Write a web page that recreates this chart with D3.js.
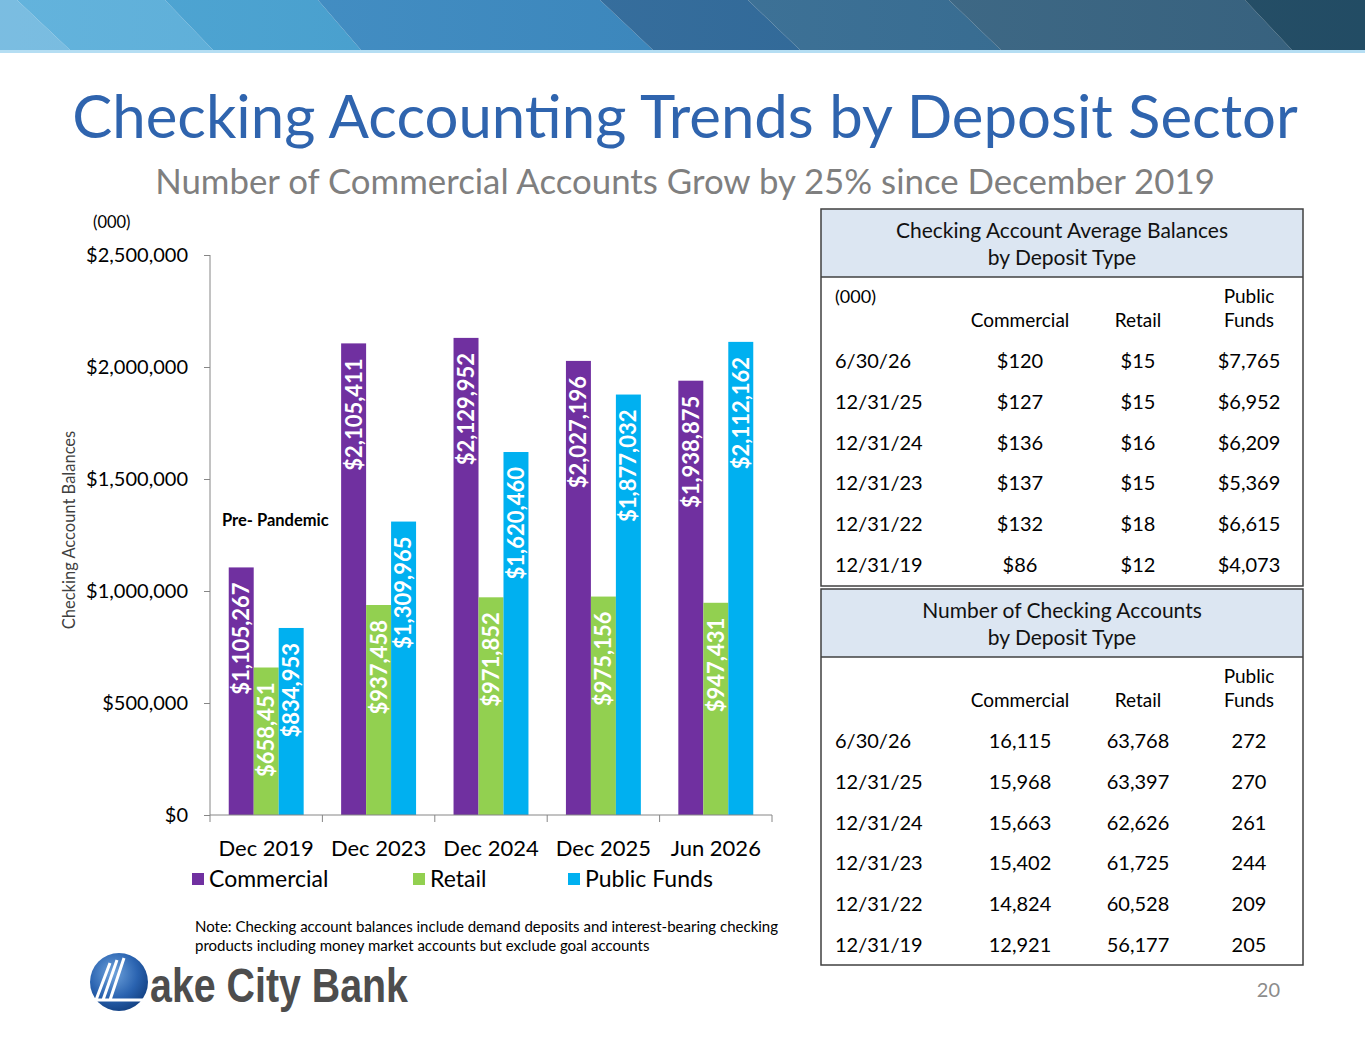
<!DOCTYPE html>
<html>
<head>
<meta charset="utf-8">
<script src="https://cdn.jsdelivr.net/npm/d3@7"></script>
<style>
  body { margin: 0; background: #fff; }
  svg { display: block; font-family: Lato, "Open Sans", sans-serif; }
</style>
</head>
<body>
<svg id="page" width="1365" height="1047"></svg>
<script>
// chart data
var categories = ["Dec 2019", "Dec 2023", "Dec 2024", "Dec 2025", "Jun 2026"];
var seriesNames = ["Commercial", "Retail", "Public Funds"];
var commercial = [1105267, 2105411, 2129952, 2027196, 1938875];
var retail = [658451, 937458, 971852, 975156, 947431];
var publicFunds = [834953, 1309965, 1620460, 1877032, 2112162];
var yTicks = [0, 500000, 1000000, 1500000, 2000000, 2500000];

// table data
var tableDates = ["6/30/26", "12/31/25", "12/31/24", "12/31/23", "12/31/22", "12/31/19"];
var balCommercial = [120, 127, 136, 137, 132, 86];
var balRetail = [15, 15, 16, 15, 18, 12];
var balPublic = [7765, 6952, 6209, 5369, 6615, 4073];
var cntCommercial = [16115, 15968, 15663, 15402, 14824, 12921];
var cntRetail = [63768, 63397, 62626, 61725, 60528, 56177];
var cntPublic = [272, 270, 261, 244, 209, 205];

var COLORS = ["#7030a0", "#92d050", "#00b0f0"];
var svg = d3.select("#page");

function fitText(sel, width) {
    var w = sel.node().getComputedTextLength();
    var fs = parseFloat(sel.attr("font-size"));
    sel.attr("font-size", fs * width / w);
}

// ---- banner ----
var bands = [
    [0, 0, 17, 70, "#6cb6de"],
    [17, 70, 165, 213, "#52abd9"],
    [165, 213, 318, 361, "#3d9dd0"],
    [318, 361, 600, 653, "#3487c2"],
    [600, 653, 748, 800, "#2c6a9e"],
    [748, 800, 949, 1001, "#37719a"],
    [949, 1001, 1245, 1292, "#3c6b8b"],
    [1245, 1292, 1365, 1365, "#26546f"]
];
var banner = svg.append("g");
bands.forEach(function (b) {
    banner.append("polygon")
        .attr("points", [[b[0], 0], [b[2], 0], [b[3], 50], [b[1], 50]].join(" "))
        .attr("fill", b[4]);
});
var shade = svg.append("defs").append("linearGradient").attr("id", "shade");
shade.append("stop").attr("offset", "0").attr("stop-color", "#fff").attr("stop-opacity", 0.1);
shade.append("stop").attr("offset", "1").attr("stop-color", "#000").attr("stop-opacity", 0.1);
banner.append("rect").attr("width", 1365).attr("height", 50).attr("fill", "url(#shade)");
banner.append("rect").attr("y", 50).attr("width", 1365).attr("height", 3).attr("fill", "#b5def3");

// ---- titles ----
var title = svg.append("text")
    .attr("x", 685).attr("y", 138)
    .attr("text-anchor", "middle")
    .attr("font-size", 58)
    .attr("fill", "#2f64ae")
    .text("Checking Accounting Trends by Deposit Sector");
fitText(title, 1226);

var subtitle = svg.append("text")
    .attr("x", 685).attr("y", 194)
    .attr("text-anchor", "middle")
    .attr("font-size", 30)
    .attr("fill", "#7f7f7f")
    .text("Number of Commercial Accounts Grow by 25% since December 2019");
fitText(subtitle, 1060);

// ---- bar chart ----
var values = [commercial, retail, publicFunds];
var data = categories.map(function (c, i) {
    return { cat: c, vals: seriesNames.map(function (s, j) { return { name: s, idx: j, v: values[j][i] }; }) };
});

var x0 = d3.scaleBand().domain(categories).range([210, 772]);
var x1 = d3.scaleBand().domain(seriesNames)
    .range([x0.bandwidth() / 6, x0.bandwidth() * 5 / 6]);
var y = d3.scaleLinear().domain([0, 2500000]).range([815, 255]);

var yAxis = d3.axisLeft(y).tickValues(yTicks).tickSize(6).tickPadding(16)
    .tickFormat(function (d) { return "$" + d3.format(",")(d); });
var gy = svg.append("g").attr("transform", "translate(210,0)").call(yAxis);
gy.selectAll("text").attr("font-size", 20).attr("fill", "#000").attr("font-family", "Lato");
gy.selectAll("line, path").attr("stroke", "#868686");
gy.select(".domain").attr("d", "M0," + y(2500000) + "V" + y(0));

var groups = svg.append("g").selectAll("g")
    .data(data).enter().append("g")
    .attr("transform", function (d) { return "translate(" + x0(d.cat) + ",0)"; });

groups.selectAll("rect")
    .data(function (d) { return d.vals; })
    .enter().append("rect")
    .attr("x", function (d) { return x1(d.name); })
    .attr("width", x1.bandwidth())
    .attr("y", function (d) { return y(d.v); })
    .attr("height", function (d) { return y(0) - y(d.v); })
    .attr("fill", function (d) { return COLORS[d.idx]; });

groups.selectAll("text")
    .data(function (d) { return d.vals; })
    .enter().append("text")
    .attr("transform", function (d) {
        return "translate(" + (x1(d.name) + x1.bandwidth() / 2) + "," + (y(d.v) + 15) + ") rotate(-90)";
    })
    .attr("text-anchor", "end")
    .attr("dy", "0.36em")
    .attr("font-size", 22)
    .attr("font-weight", "bold")
    .attr("fill", "#fff")
    .text(function (d) { return "$" + d3.format(",")(d.v); });

// x axis
var gx = svg.append("g");
gx.append("line").attr("x1", 210).attr("x2", 772).attr("y1", 815).attr("y2", 815).attr("stroke", "#868686");
gx.selectAll(".tk").data(categories.concat([null])).enter().append("line")
    .attr("x1", function (d) { return d ? x0(d) : x0.range()[1]; })
    .attr("x2", function (d) { return d ? x0(d) : x0.range()[1]; })
    .attr("y1", 815).attr("y2", 822)
    .attr("stroke", "#868686");
gx.selectAll(".lbl").data(categories).enter().append("text")
    .attr("x", function (d) { return x0(d) + x0.bandwidth() / 2; })
    .attr("y", 856)
    .attr("text-anchor", "middle")
    .attr("font-size", 22)
    .text(function (d) { return d; });

// legend
var legendX = [192, 413, 568];
var lg = svg.append("g").selectAll("g").data(seriesNames).enter().append("g")
    .attr("transform", function (d, i) { return "translate(" + legendX[i] + ",873)"; });
lg.append("rect").attr("width", 12).attr("height", 12).attr("fill", function (d, i) { return COLORS[i]; });
lg.append("text").attr("x", 17).attr("y", 14).attr("font-size", 23).text(function (d) { return d; });

// misc chart texts
svg.append("text").attr("x", 93).attr("y", 228).attr("font-size", 16.5).text("(000)");
svg.append("text").attr("x", 222).attr("y", 526).attr("font-size", 16.5).attr("font-weight", "bold").text("Pre- Pandemic");
svg.append("text")
    .attr("transform", "translate(75,530) rotate(-90)")
    .attr("text-anchor", "middle")
    .attr("font-size", 16.5)
    .attr("fill", "#404040")
    .text("Checking Account Balances");

var note = svg.append("text").attr("font-size", 15).attr("fill", "#000");
note.append("tspan").attr("x", 195).attr("y", 932)
    .text("Note: Checking account balances include demand deposits and interest-bearing checking");
note.append("tspan").attr("x", 195).attr("y", 951)
    .text("products including money market accounts but exclude goal accounts");

// ---- tables ----
var colX = [835, 1020, 1138, 1249];

function drawTable(top, bottom, titleLines, corner, rows) {
    var g = svg.append("g");
    g.append("rect").attr("x", 821).attr("y", top).attr("width", 482).attr("height", 68)
        .attr("fill", "#dce6f2");
    g.append("line").attr("x1", 821).attr("x2", 1303).attr("y1", top + 68).attr("y2", top + 68)
        .attr("stroke", "#404040").attr("stroke-width", 1.5);
    g.append("rect").attr("x", 821).attr("y", top).attr("width", 482).attr("height", bottom - top)
        .attr("fill", "none").attr("stroke", "#404040").attr("stroke-width", 1.5);

    g.selectAll(".ttl").data(titleLines).enter().append("text")
        .attr("x", 1062).attr("y", function (d, i) { return top + 29 + i * 27; })
        .attr("text-anchor", "middle").attr("font-size", 21).attr("fill", "#111")
        .text(function (d) { return d; });

    if (corner) g.append("text").attr("x", colX[0]).attr("y", top + 94).attr("font-size", 18).text(corner);
    g.append("text").attr("x", colX[3]).attr("y", top + 94).attr("text-anchor", "middle").attr("font-size", 19).text("Public");
    ["Commercial", "Retail", "Funds"].forEach(function (h, i) {
        g.append("text").attr("x", colX[i + 1]).attr("y", top + 118)
            .attr("text-anchor", "middle").attr("font-size", 19).text(h);
    });

    var r = g.selectAll(".row").data(rows).enter().append("g")
        .attr("transform", function (d, i) { return "translate(0," + (top + 159 + i * 40.8) + ")"; });
    r.selectAll("text").data(function (d) { return d; }).enter().append("text")
        .attr("x", function (d, i) { return colX[i]; })
        .attr("text-anchor", function (d, i) { return i === 0 ? "start" : "middle"; })
        .attr("font-size", 20)
        .text(function (d) { return d; });
}

var money = function (v) { return "$" + d3.format(",")(v); };
drawTable(209, 586, ["Checking Account Average Balances", "by Deposit Type"], "(000)",
    tableDates.map(function (d, i) {
        return [d, money(balCommercial[i]), money(balRetail[i]), money(balPublic[i])];
    }));
drawTable(589, 965, ["Number of Checking Accounts", "by Deposit Type"], null,
    tableDates.map(function (d, i) {
        return [d, d3.format(",")(cntCommercial[i]), d3.format(",")(cntRetail[i]), d3.format(",")(cntPublic[i])];
    }));

// page number
svg.append("text").attr("x", 1280).attr("y", 997).attr("text-anchor", "end")
    .attr("font-size", 20).attr("fill", "#8c8c8c").text("20");

// ---- logo ----
var defs = svg.select("defs");
var rg = defs.append("radialGradient").attr("id", "ball").attr("cx", "0.4").attr("cy", "0.35").attr("r", "0.7");
rg.append("stop").attr("offset", "0").attr("stop-color", "#6fa3dc");
rg.append("stop").attr("offset", "0.6").attr("stop-color", "#2a63b0");
rg.append("stop").attr("offset", "1").attr("stop-color", "#123f80");
var logo = svg.append("g");
logo.append("circle").attr("cx", 119).attr("cy", 982).attr("r", 29).attr("fill", "url(#ball)");
logo.append("path").attr("d", "M110,963 L96,1000 M117,960 L103,1000 M124,958 L110,1000 M96,1000 L152,1000")
    .attr("stroke", "#fff").attr("stroke-width", 3).attr("fill", "none");
logo.append("text").attr("x", 150).attr("y", 1002)
    .attr("font-family", "Liberation Sans, Arial, sans-serif")
    .attr("font-weight", "bold").attr("font-size", 48)
    .attr("fill", "#4d4d4d")
    .attr("textLength", 258).attr("lengthAdjust", "spacingAndGlyphs")
    .text("ake City Bank");
</script>
</body>
</html>
